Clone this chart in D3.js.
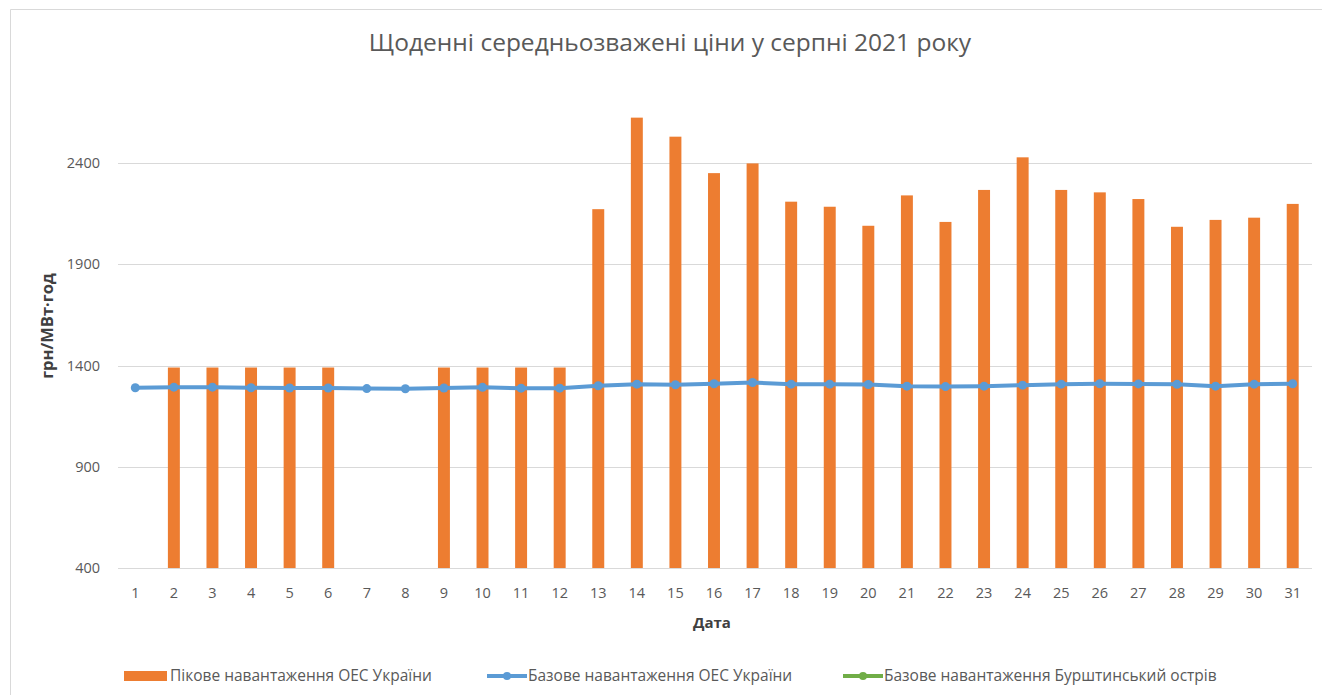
<!DOCTYPE html>
<html>
<head>
<meta charset="utf-8">
<script src="https://cdn.jsdelivr.net/npm/d3@7"></script>
<style>
  body { margin: 0; background: #fff; }
  svg { display: block; font-family: "Open Sans", "Noto Sans", sans-serif; }
</style>
</head>
<body>
<svg id="chart" width="1322" height="695"></svg>
<script>
// days of August 2021
const days = d3.range(1, 32);

// peak load, UES of Ukraine (null = no bar)
const peakUes = [null, 1390, 1390, 1390, 1390, 1390, null, null, 1390, 1390,
  1390, 1390, 2172, 2624, 2530, 2350, 2398, 2209, 2184, 2090,
  2240, 2109, 2267, 2428, 2267, 2255, 2222, 2085, 2119, 2130, 2198];

// base load, UES of Ukraine
const baseUes = [1290, 1293, 1293, 1290, 1289, 1289, 1286, 1285, 1289, 1292,
  1288, 1288, 1300, 1308, 1305, 1310, 1316, 1308, 1308, 1306,
  1298, 1296, 1298, 1303, 1308, 1310, 1309, 1307, 1298, 1308, 1310];

// base load, Burshtyn island (no visible points)
const baseBurshtyn = [];

const yTicks = [400, 900, 1400, 1900, 2400];

const legendItems = [
  { label: "Пікове навантаження ОЕС України", color: "#ed7d31", type: "bar" },
  { label: "Базове навантаження ОЕС України", color: "#5b9bd5", type: "line" },
  { label: "Базове навантаження Бурштинський острів", color: "#70ad47", type: "line" }
];

const svg = d3.select("#chart");
const plotLeft = 116;
const plotRight = 1312;

// frame
svg.append("path")
  .attr("d", "M10.5,695 V9.5 H1322")
  .attr("fill", "none")
  .attr("stroke", "#d9d9d9")
  .attr("stroke-width", 1);

const x = d3.scaleBand()
  .domain(days)
  .range([plotLeft, plotRight])
  .paddingInner(0.69)
  .paddingOuter(0.345);

const y = d3.scaleLinear()
  .domain([400, 2400])
  .range([568, 163]);

// gridlines
svg.append("g")
  .selectAll("line")
  .data(yTicks)
  .join("line")
  .attr("x1", plotLeft + 2)
  .attr("x2", plotRight)
  .attr("y1", (d) => Math.round(y(d)) + 0.5)
  .attr("y2", (d) => Math.round(y(d)) + 0.5)
  .attr("stroke", "#d9d9d9")
  .attr("stroke-width", 1);

// y axis labels
svg.append("g")
  .selectAll("text")
  .data(yTicks)
  .join("text")
  .attr("x", 100)
  .attr("y", (d) => y(d))
  .attr("dy", "0.35em")
  .attr("text-anchor", "end")
  .attr("fill", "#595959")
  .attr("font-size", 14.5)
  .text((d) => d);

// x axis labels
svg.append("g")
  .selectAll("text")
  .data(days)
  .join("text")
  .attr("x", (d) => x(d) + x.bandwidth() / 2)
  .attr("y", 598)
  .attr("text-anchor", "middle")
  .attr("fill", "#595959")
  .attr("font-size", 14.5)
  .text((d) => d);

// bars
const peakData = days.map((d, i) => ({ day: d, value: peakUes[i] }))
  .filter((d) => d.value != null);

svg.append("g")
  .selectAll("rect")
  .data(peakData)
  .join("rect")
  .attr("x", (d) => x(d.day))
  .attr("y", (d) => y(d.value))
  .attr("width", x.bandwidth())
  .attr("height", (d) => y(400) - y(d.value))
  .attr("fill", "#ed7d31");

// base line
const baseData = days.map((d, i) => ({ day: d, value: baseUes[i] }));
const line = d3.line()
  .x((d) => x(d.day) + x.bandwidth() / 2)
  .y((d) => y(d.value));

svg.append("path")
  .datum(baseData)
  .attr("d", line)
  .attr("fill", "none")
  .attr("stroke", "#5b9bd5")
  .attr("stroke-width", 4)
  .attr("stroke-linejoin", "round");

svg.append("g")
  .selectAll("circle")
  .data(baseData)
  .join("circle")
  .attr("cx", (d) => x(d.day) + x.bandwidth() / 2)
  .attr("cy", (d) => y(d.value))
  .attr("r", 4.5)
  .attr("fill", "#5b9bd5");

// Burshtyn series (empty)
svg.append("path")
  .datum(baseBurshtyn.map((v, i) => ({ day: days[i], value: v })))
  .attr("d", line)
  .attr("fill", "none")
  .attr("stroke", "#70ad47")
  .attr("stroke-width", 3);

// title
svg.append("text")
  .attr("x", 670)
  .attr("y", 51)
  .attr("text-anchor", "middle")
  .attr("fill", "#595959")
  .attr("font-size", 24.5)
  .text("Щоденні середньозважені ціни у серпні 2021 року");

// axis titles
svg.append("text")
  .attr("transform", "translate(53,326) rotate(-90)")
  .attr("text-anchor", "middle")
  .attr("fill", "#404040")
  .attr("font-size", 16.5)
  .attr("font-weight", "bold")
  .text("грн/МВт·год");

svg.append("text")
  .attr("x", 712)
  .attr("y", 628)
  .attr("text-anchor", "middle")
  .attr("fill", "#404040")
  .attr("font-size", 15)
  .attr("font-weight", "bold")
  .text("Дата");

// legend
const legendX = [124, 487, 843];
const lg = svg.append("g")
  .selectAll("g")
  .data(legendItems)
  .join("g")
  .attr("transform", (d, i) => `translate(${legendX[i]},676)`);

lg.filter((d) => d.type === "bar")
  .append("rect")
  .attr("x", 0).attr("y", -5)
  .attr("width", 43).attr("height", 10)
  .attr("fill", (d) => d.color);

lg.filter((d) => d.type === "line")
  .append("line")
  .attr("x1", 0).attr("x2", 40)
  .attr("stroke", (d) => d.color)
  .attr("stroke-width", 4);

lg.filter((d) => d.type === "line")
  .append("circle")
  .attr("cx", 20).attr("r", 4)
  .attr("fill", (d) => d.color);

lg.append("text")
  .attr("x", (d) => (d.type === "bar" ? 46 : 41))
  .attr("dy", "0.35em")
  .attr("fill", "#595959")
  .attr("font-size", 15.5)
  .text((d) => d.label);
</script>
</body>
</html>
